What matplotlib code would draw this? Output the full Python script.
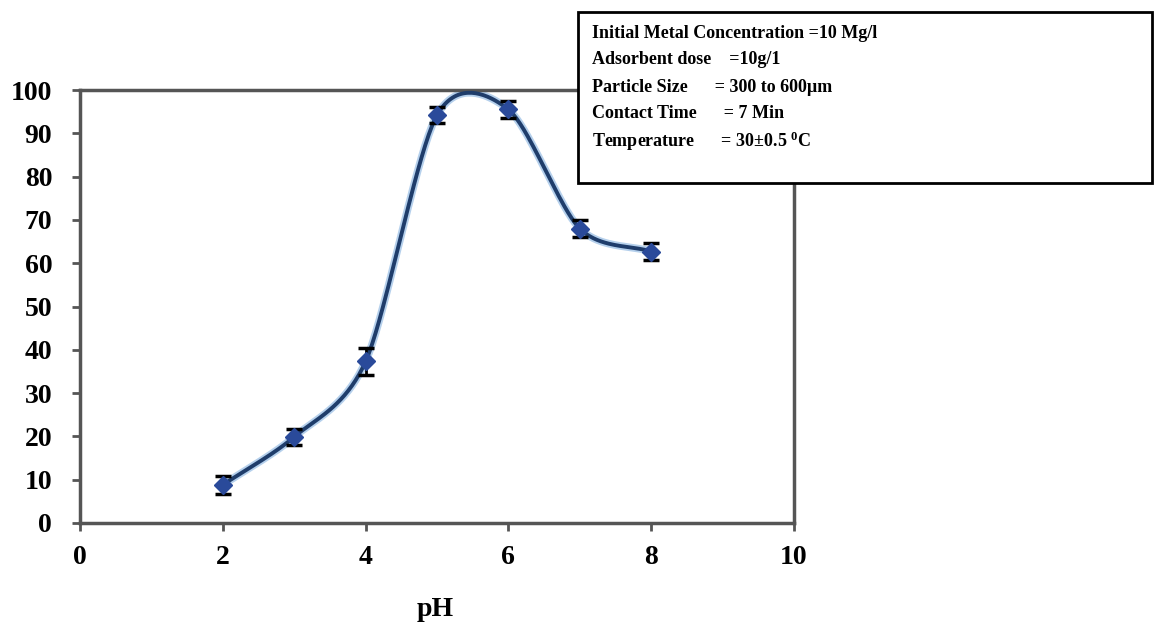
import numpy as np
import matplotlib
matplotlib.use("Agg")
import matplotlib.pyplot as plt
from matplotlib.patches import Rectangle

# ---- data ----
ph = [2, 3, 4, 5, 6, 7, 8]
removal = [8.8, 19.9, 37.3, 94.2, 95.5, 68.0, 62.7]
err = [2.1, 1.9, 3.1, 1.9, 1.9, 1.9, 1.9]
xticks = [0, 2, 4, 6, 8, 10]
yticks = [0, 10, 20, 30, 40, 50, 60, 70, 80, 90, 100]
xlabel = "pH"
info_lines = [
    "Initial Metal Concentration =10 Mg/l",
    "Adsorbent dose    =10g/1",
    "Particle Size      = 300 to 600\u00b5m",
    "Contact Time      = 7 Min",
    "Temperature      = 30\u00b10.5 $^{\\mathbf{0}}$C",
]

plt.rcParams['font.family'] = ['Liberation Serif', 'DejaVu Serif']
plt.rcParams['font.weight'] = 'bold'
plt.rcParams['mathtext.fontset'] = 'custom'
plt.rcParams['mathtext.rm'] = 'Liberation Serif:bold'
plt.rcParams['mathtext.bf'] = 'Liberation Serif:bold'
plt.rcParams['mathtext.it'] = 'Liberation Serif:bold'


def smooth(x, y, n=40, k=0.85):
    """Cardinal (Hermite) spline through the points, Excel-like smoothing."""
    x = np.asarray(x, float); y = np.asarray(y, float)
    m = len(x)
    P = np.column_stack([x, y])
    T = np.zeros_like(P)
    for i in range(m):
        a = P[max(i - 1, 0)]; b = P[min(i + 1, m - 1)]
        T[i] = k * 0.5 * (b - a) * (2 if i in (0, m - 1) else 1)
    t = np.linspace(0, 1, n)[:, None]
    h00 = 2 * t ** 3 - 3 * t ** 2 + 1
    h10 = t ** 3 - 2 * t ** 2 + t
    h01 = -2 * t ** 3 + 3 * t ** 2
    h11 = t ** 3 - t ** 2
    out = [h00 * P[i] + h10 * T[i] + h01 * P[i + 1] + h11 * T[i + 1] for i in range(m - 1)]
    out = np.vstack(out)
    return out[:, 0], out[:, 1]


fig = plt.figure(figsize=(11.55, 6.25), dpi=100)
ax = fig.add_axes([80 / 1155, 1 - 523 / 625, (794 - 80) / 1155, (523 - 90) / 625])

sx, sy = smooth(ph, removal)
ax.plot(sx, sy, color='#b5d0ec', lw=5.5, solid_capstyle='round', zorder=2)
ax.plot(sx, sy, color='#1f3d6b', lw=2.8, zorder=3)
ax.errorbar(ph, removal, yerr=err, fmt='none', ecolor='black', elinewidth=2.0,
            capsize=6, capthick=2.5, zorder=4)
ax.plot(ph, removal, linestyle='none', marker='D', markersize=9,
        color='#2a4a9a', markeredgecolor='#2a4a9a', zorder=5)

ax.set_xlim(0, 10)
ax.set_ylim(0, 100)
ax.set_xticks(xticks)
ax.set_yticks(yticks)
ax.set_xticklabels([str(v) for v in xticks])
ax.set_yticklabels([str(v) for v in yticks])
for s in ax.spines.values():
    s.set_color('#555555')
    s.set_linewidth(2.5)
ax.tick_params(axis='both', direction='out', length=6, width=2, color='#555555',
               labelsize=20)
ax.tick_params(axis='y', pad=14)
ax.tick_params(axis='x', pad=10)
for lab in ax.get_xticklabels() + ax.get_yticklabels():
    lab.set_fontweight('bold')

fig.text(435 / 1155, 1 - 610 / 625, xlabel, ha='center', va='center',
         fontsize=20, fontweight='bold')

# info box
box = Rectangle((578 / 1155, 1 - 183 / 625), (1152 - 578) / 1155, (183 - 12) / 625,
                transform=fig.transFigure, facecolor='white', edgecolor='black',
                linewidth=2, zorder=10)
fig.patches.append(box)
ys_px = [33, 60, 87, 114, 141]
for txt, ypx in zip(info_lines, ys_px):
    fig.text(592 / 1155, 1 - ypx / 625, txt, ha='left', va='center',
             fontsize=13, fontweight='bold', zorder=11)

fig.savefig('out.png', dpi=100)
